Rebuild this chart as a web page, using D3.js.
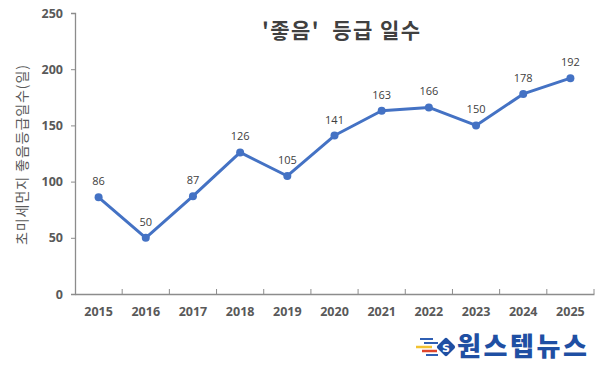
<!DOCTYPE html>
<html><head><meta charset="utf-8">
<script src="https://cdn.jsdelivr.net/npm/d3@7"></script>
<style>
body{margin:0;background:#fff;}
text{font-family:"Malgun Gothic","Noto Sans CJK KR","Noto Sans",sans-serif;}
</style></head>
<body><svg id="c" width="607" height="372"></svg>
<script>
const years = ["2015","2016","2017","2018","2019","2020","2021","2022","2023","2024","2025"];
const goodDays = [86,50,87,126,105,141,163,166,150,178,192];
const yTicks = [0,50,100,150,200,250];
const title = "'좋음'  등급 일수";
const yLabel = "초미세먼지 좋음등급일수(일)";
const logoText = "원스텝뉴스";

const svg = d3.select("#c");
const x = d3.scaleBand().domain(years).range([75,594]);
const y = d3.scaleLinear().domain([0,250]).range([294,13]);
const axisColor = "#8c8c8c", textColor = "#595959";

// y axis
const ya = svg.append("g").attr("transform","translate(75,0)")
  .call(d3.axisLeft(y).tickValues(yTicks).tickSize(4).tickPadding(8));
ya.select(".domain").attr("stroke",axisColor).attr("stroke-width",1.3);
ya.selectAll(".tick line").attr("stroke",axisColor);
ya.selectAll("text").attr("fill",textColor).style("font-size","12.5px").style("font-weight","bold")
  .style("font-family","'Open Sans',sans-serif");

// x axis
const xa = svg.append("g").attr("transform","translate(0,294)")
  .call(d3.axisBottom(x).tickSize(0).tickPadding(13));
xa.select(".domain").attr("stroke",axisColor).attr("stroke-width",1.3);
xa.selectAll("text").attr("fill",textColor).style("font-size","12.5px").style("font-weight","bold")
  .style("font-family","'Open Sans',sans-serif");
// category boundary ticks
svg.append("g").selectAll("line").data(years).join("line")
  .attr("x1",(d,i)=> x.range()[0] + x.step()*(i+1)).attr("x2",(d,i)=> x.range()[0] + x.step()*(i+1))
  .attr("y1",294).attr("y2",289).attr("stroke",axisColor).attr("stroke-width",1);

// line
const line = d3.line().x((d,i)=>x(years[i])+x.bandwidth()/2).y(d=>y(d));
svg.append("path").datum(goodDays).attr("d",line).attr("fill","none")
  .attr("stroke","#4472C4").attr("stroke-width",3).attr("stroke-linejoin","round");
svg.append("g").selectAll("circle").data(goodDays).join("circle")
  .attr("cx",(d,i)=>x(years[i])+x.bandwidth()/2).attr("cy",d=>y(d)).attr("r",4)
  .attr("fill","#4472C4");
svg.append("g").selectAll("text").data(goodDays).join("text")
  .attr("x",(d,i)=>x(years[i])+x.bandwidth()/2).attr("y",d=>y(d)-12)
  .attr("text-anchor","middle").attr("fill","#404040").style("font-size","11px")
  .style("font-family","'Open Sans',sans-serif").text(d=>d);

// title
svg.append("text").attr("x",341).attr("y",38).attr("text-anchor","middle")
  .attr("fill","#404040").style("font-size","21px").style("font-weight","bold")
  .attr("textLength",158).attr("xml:space","preserve").style("white-space","pre").text(title);

// y label
svg.append("text").attr("transform","translate(27,155) rotate(-90)").attr("text-anchor","middle")
  .attr("fill",textColor).style("font-size","14px").attr("textLength",180).text(yLabel);

// logo
const lg = svg.append("g");
lg.append("line").attr("x1",420).attr("x2",433).attr("y1",339).attr("y2",339).attr("stroke","#2f5fb3").attr("stroke-width",2);
lg.append("line").attr("x1",424).attr("x2",438).attr("y1",343).attr("y2",343).attr("stroke","#2f5fb3").attr("stroke-width",2);
lg.append("line").attr("x1",416).attr("x2",432).attr("y1",347).attr("y2",347).attr("stroke","#f2c230").attr("stroke-width",2.5);
lg.append("line").attr("x1",422).attr("x2",437).attr("y1",351).attr("y2",351).attr("stroke","#e0452b").attr("stroke-width",2.5);
lg.append("line").attr("x1",426).attr("x2",438).attr("y1",355).attr("y2",355).attr("stroke","#2f5fb3").attr("stroke-width",2);
lg.append("rect").attr("x",-7).attr("y",-7).attr("width",14).attr("height",14).attr("rx",2)
  .attr("transform","translate(446,347) rotate(45)").attr("fill","#1f4fa3");
lg.append("text").attr("x",446).attr("y",351.5).attr("text-anchor","middle").attr("fill","#fff")
  .style("font-size","11px").style("font-weight","bold").style("font-family","'DejaVu Sans',sans-serif").text("S");
lg.append("text").attr("x",457).attr("y",356).attr("fill","#1f4fa3").style("font-size","26px")
  .style("font-weight","900").attr("textLength",130).text(logoText);
</script></body></html>
